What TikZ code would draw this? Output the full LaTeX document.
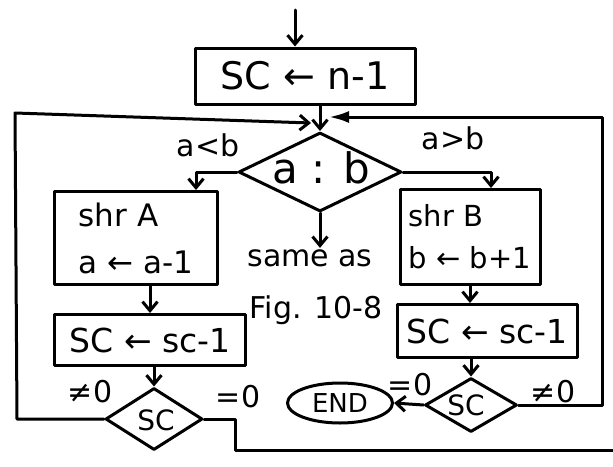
\documentclass[tikz,border=0pt]{standalone}
\usepackage{fontspec}
\setmainfont{DejaVu Sans}
\usetikzlibrary{arrows.meta,shapes.geometric}
\begin{document}
\begin{tikzpicture}[x=1pt,y=-1pt,
  line width=3pt, line join=round, line cap=round,
  arr/.style={-{Straight Barb[length=9pt,width=15pt]}},
  arrf/.style={-{Latex[length=20pt,width=12pt]}},
  box/.style={draw, rectangle, inner sep=0pt},
  dia/.style={draw, diamond, inner sep=0pt},
  lbl/.style={font=\fontsize{30}{32}\selectfont, inner sep=0pt},
]
\useasboundingbox (0,0) rectangle (613,466);

% nodes
\node[box, minimum width=220pt, minimum height=56pt, font=\fontsize{38}{40}\selectfont] (init) at (305,76) {SC ← n-1};
\node[dia, minimum width=163pt, minimum height=79pt] (cmp) at (320,172) {};
\node[lbl, font=\fontsize{42}{44}\selectfont] (cmpt) at (321,168) {a : b};

\node[box, minimum width=163pt, minimum height=93pt, align=left, font=\fontsize{31}{47}\selectfont] (shrA) at (136,238) {shr A\\a ← a-1};
\node[box, minimum width=140pt, minimum height=95pt, align=left, font=\fontsize{29}{42}\selectfont] (shrB) at (470,237) {shr B\\b ← b+1};

\node[box, minimum width=191pt, minimum height=51pt, font=\fontsize{33}{35}\selectfont] (decA) at (150,340) {SC ← sc-1};
\node[box, minimum width=180pt, minimum height=53pt, font=\fontsize{33}{35}\selectfont] (decB) at (487,331) {SC ← sc-1};

\node[dia, minimum width=97pt, minimum height=62pt] (tstA) at (154,419) {};
\node[lbl, font=\fontsize{28}{30}\selectfont] (tstAt) at (156,420) {SC};
\node[dia, minimum width=92pt, minimum height=54pt] (tstB) at (471,405) {};
\node[lbl, font=\fontsize{28}{30}\selectfont] (tstBt) at (466,405) {SC};

\node[draw, ellipse, inner sep=0pt, minimum width=105pt, minimum height=40pt, font=\fontsize{26}{28}\selectfont] (END) at (340,403) {END};

\node[lbl] (same) at (310,258) {same as};
\node[lbl] (fig) at (316,310) {Fig. 10-8};

\node[lbl] (lt) at (208,145) {a<b};
\node[lbl] (gt) at (453,138) {a>b};
\node[lbl] (neA) at (90,392) {≠0};
\node[lbl] (eqA) at (238,397) {=0};
\node[lbl] (eqB) at (410,385) {=0};
\node[lbl] (neB) at (553,392) {≠0};

% coordinates
\coordinate (start) at (295,10);
\coordinate (Jl) at (311,123);
\coordinate (Jr) at (329,117);
\coordinate (cLB) at (17,419);
\coordinate (cLT) at (15,113);
\coordinate (cRB) at (602,405);
\coordinate (cRT) at (602,117);
\coordinate (cEx) at (235,419);
\coordinate (cExB) at (235,450);
\coordinate (exit) at (613,450);

% connectors
\draw[arr] (start) -- (start |- init.north);
\draw[arr] (cmp.north |- init.south) -- (cmp.north);
\draw[arr] (cmp.west) -| ([xshift=60pt]shrA.north);
\draw[arr] (cmp.east) -| ([xshift=21pt]shrB.north);
\draw[arr] (cmp.south) -- (cmp.south |- same.north);
\draw[arr] (shrA.south -| decA.north) -- (decA.north);
\draw[arr] (decA.south -| tstA.north) -- (tstA.north);
\draw[arr] (shrB.south) -- (shrB.south |- decB.north);
\draw[arr] (decB.south -| tstB.north) -- (tstB.north);
\draw[arr] (tstB.west) -- (END.east);
\draw[arr] (tstA.west) -- (cLB) -- (cLT) -- (Jl);
\draw[arrf] (tstB.east) -- (cRB) -- (cRT) -- (Jr);
\draw (tstA.east) -- (cEx) -- (cExB) -- (exit);
\end{tikzpicture}
\end{document}
